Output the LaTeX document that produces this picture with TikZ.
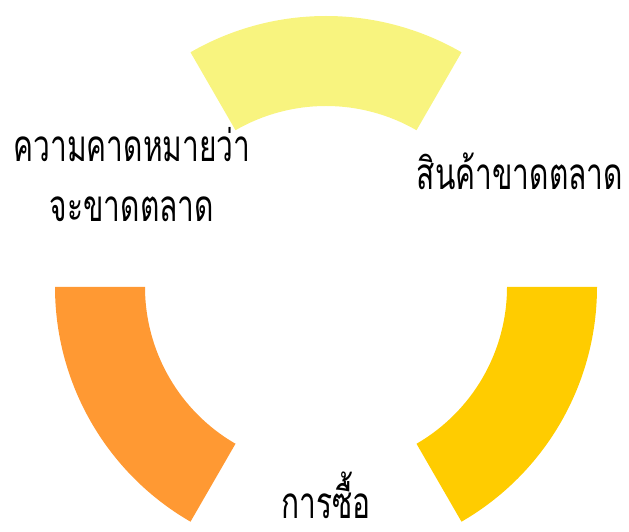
\documentclass[tikz,border=0pt]{standalone}
\usepackage{fontspec}
\newfontfamily\thaifont[Script=Thai,FakeStretch=0.68]{Loma}
\usepackage{xcolor}

\definecolor{segyellow}{HTML}{F8F47F}
\definecolor{segorange}{HTML}{FF9933}
\definecolor{seggold}{HTML}{FFCC00}

\tikzset{
  lbl/.style={font=\thaifont\fontsize{44}{60}\selectfont, align=center, inner sep=0pt, anchor=base}
}

\begin{document}
\begin{tikzpicture}[x=1pt,y=1pt]
  \useasboundingbox (0,0) rectangle (629,532);
  % three ring segments round the centre
  \foreach \a/\c in {60/segyellow,180/segorange,300/seggold}{
    \fill[\c] (326,245) ++(\a:271) arc[start angle=\a, end angle=\a+60, radius=271]
      -- ++({\a+60}:-90) arc[start angle=\a+60, end angle=\a, radius=181] -- cycle;
  }
  \node[lbl] (expect) at (132,310) {ความคาดหมายว่า\\จะขาดตลาด};
  \node[lbl] (short) at (520,342) {สินค้าขาดตลาด};
  \node[lbl] (buy) at (326,13) {การซื้อ};
\end{tikzpicture}
\end{document}
